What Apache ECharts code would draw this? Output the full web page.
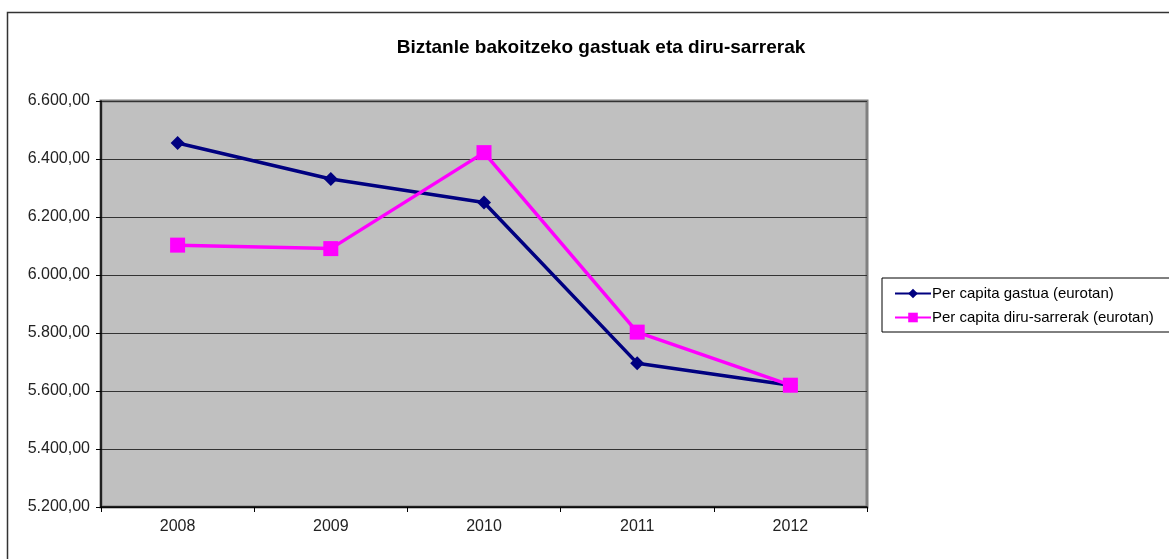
<!DOCTYPE html>
<html>
<head>
<meta charset="utf-8">
<script src="https://cdn.jsdelivr.net/npm/echarts@6/dist/echarts.min.js"></script>
<style>
  html, body { margin: 0; padding: 0; background: #fff; }
  #chart { width: 1169px; height: 559px; }
</style>
</head>
<body>
<div id="chart"></div>
<script>
// data
const years = ['2008', '2009', '2010', '2011', '2012'];
const gastua = [6455, 6331, 6250, 5696, 5620];
const sarrerak = [6103, 6091, 6422, 5803, 5620];
const seriesNames = ['Per capita gastua (eurotan)', 'Per capita diru-sarrerak (eurotan)'];

const chart = echarts.init(document.getElementById('chart'));

// 6.600,00 style labels
function fmt(v) {
  const parts = v.toFixed(2).split('.');
  const intPart = parts[0].replace(/\B(?=(\d{3})+(?!\d))/g, '.');
  return intPart + ',' + parts[1];
}

const font = 'Liberation Sans, Arial, sans-serif';

const option = {
  animation: false,
  textStyle: { fontFamily: font },
  title: {
    text: 'Biztanle bakoitzeko gastuak eta diru-sarrerak',
    left: 596,
    top: 33,
    textAlign: 'center',
    textStyle: { fontSize: 19, fontWeight: 'bold', color: '#000', fontFamily: font }
  },
  graphic: [{
    type: 'rect',
    shape: { x: 7.5, y: 12.5, width: 1300, height: 700 },
    style: { fill: null, stroke: '#333', lineWidth: 1.5 },
    z: -1
  }],
  legend: {
    left: 882,
    top: 278,
    orient: 'vertical',
    data: seriesNames,
    borderColor: '#000',
    borderWidth: 1,
    padding: [8, 20, 7, 12],
    itemWidth: 36,
    itemHeight: 12,
    itemGap: 9,
    textStyle: { fontSize: 15, color: '#000', fontFamily: font, padding: [0, 0, 0, -4] }
  },
  grid: {
    left: 101,
    top: 101,
    right: 302,
    bottom: 52,
    show: true,
    backgroundColor: '#c0c0c0',
    borderColor: '#808080',
    borderWidth: 3
  },
  xAxis: {
    type: 'category',
    data: years,
    boundaryGap: true,
    axisLine: { lineStyle: { color: '#000', width: 1.5 } },
    axisTick: { show: true, length: 5, lineStyle: { color: '#000' } },
    axisLabel: { fontSize: 16, color: '#222', margin: 12, fontFamily: font }
  },
  yAxis: {
    type: 'value',
    min: 5200,
    max: 6600,
    interval: 200,
    axisLine: { show: true, lineStyle: { color: '#000', width: 1.5 } },
    axisTick: { show: true, length: 5, lineStyle: { color: '#000' } },
    axisLabel: { fontSize: 16, color: '#222', margin: 11, formatter: fmt, fontFamily: font },
    splitLine: { show: true, lineStyle: { color: '#333', width: 1 } }
  },
  series: [
    {
      name: seriesNames[0],
      type: 'line',
      data: gastua,
      symbol: 'diamond',
      symbolSize: 14,
      color: '#000080',
      lineStyle: { width: 3.5, color: '#000080' },
      itemStyle: { color: '#000080' },
      z: 3
    },
    {
      name: seriesNames[1],
      type: 'line',
      data: sarrerak,
      symbol: 'rect',
      symbolSize: 15,
      color: '#ff00ff',
      lineStyle: { width: 3.5, color: '#ff00ff' },
      itemStyle: { color: '#ff00ff' },
      z: 4
    }
  ]
};

chart.setOption(option);
</script>
</body>
</html>
